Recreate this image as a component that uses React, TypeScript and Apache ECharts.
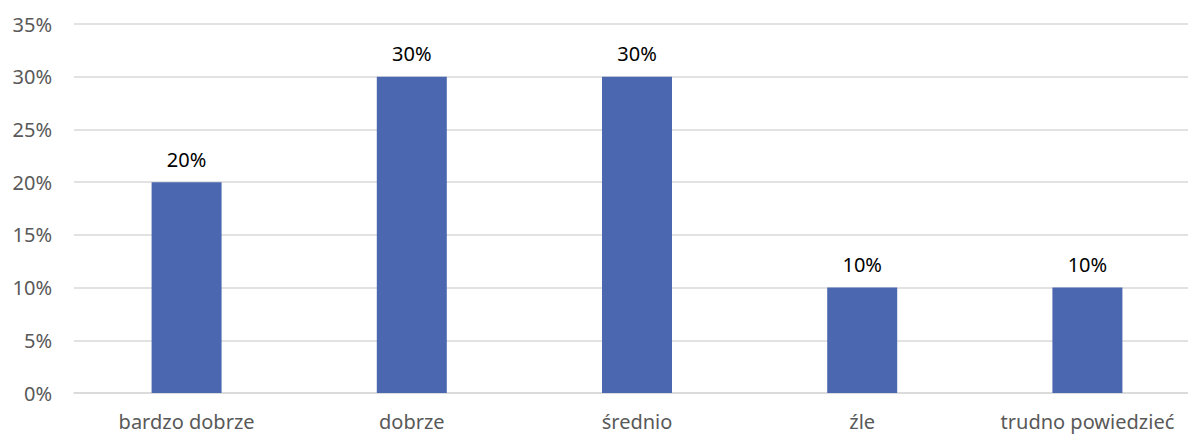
import React, { useEffect, useRef } from "react";
import * as echarts from "echarts";

const categories = ["bardzo dobrze", "dobrze", "średnio", "źle", "trudno powiedzieć"];
const values = [20, 30, 30, 10, 10];

export default function App() {
  const ref = useRef<HTMLDivElement>(null);
  useEffect(() => {
    const chart = echarts.init(ref.current!, null, { renderer: "svg" });
    chart.setOption({
      animation: false,
      grid: { left: 74, right: 0, top: 24, bottom: 41, containLabel: false },
      xAxis: {
        type: "category",
        data: categories,
        axisLine: { show: true, lineStyle: { color: "#d9d9d9", width: 1.5 } },
        axisTick: { show: false },
        axisLabel: { color: "#595959", fontSize: 20, fontFamily: "Noto Sans", margin: 18, interval: 0, hideOverlap: false },
      },
      yAxis: {
        type: "value",
        min: 0,
        max: 35,
        interval: 5,
        axisLine: { show: false },
        axisTick: { show: false },
        splitLine: { lineStyle: { color: "#d9d9d9", width: 1.5 } },
        axisLabel: { color: "#595959", fontSize: 20, fontFamily: "Noto Sans", margin: 22, formatter: "{value}%" },
      },
      series: [
        {
          type: "bar",
          data: values,
          barWidth: 70,
          itemStyle: { color: "#4a67b0" },
          label: {
            show: true,
            position: "top",
            distance: 13,
            color: "#000000",
            fontSize: 20,
            fontFamily: "Noto Sans",
            formatter: "{c}%",
          },
        },
      ],
    });
    return () => chart.dispose();
  }, []);
  return (
    <div
      ref={ref}
      style={{ position: "fixed", left: 0, top: 0, width: 1200, height: 434, background: "#fff" }}
    />
  );
}
